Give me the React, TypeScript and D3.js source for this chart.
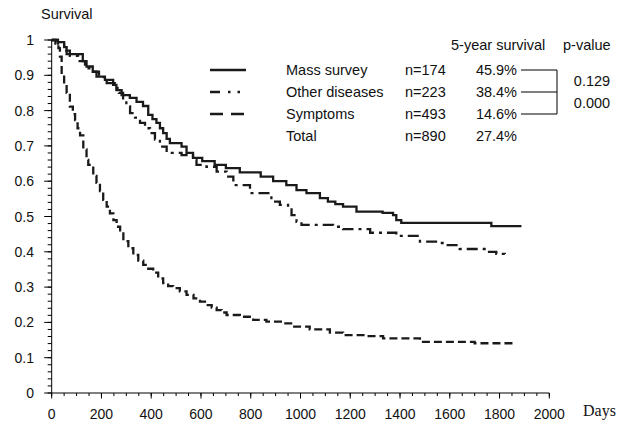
import React from "react";
import * as d3 from "d3";

// Kaplan-Meier step data: [days, survival]
const massSurvey: [number, number][] = [
  [0, 1], [25, 0.994], [50, 0.98], [60, 0.96], [125, 0.94], [140, 0.925], [165, 0.91],
  [180, 0.896], [214, 0.887], [247, 0.873], [260, 0.858], [281, 0.844], [314, 0.836],
  [341, 0.825], [367, 0.813], [388, 0.788], [405, 0.776], [421, 0.765], [435, 0.75],
  [448, 0.736], [462, 0.72], [475, 0.708], [522, 0.698], [542, 0.68], [568, 0.666],
  [605, 0.657], [655, 0.646], [700, 0.637], [756, 0.625], [840, 0.613], [890, 0.6],
  [943, 0.589], [984, 0.575], [1024, 0.566], [1078, 0.552], [1110, 0.542], [1140, 0.535],
  [1171, 0.528], [1225, 0.514], [1330, 0.51], [1372, 0.504], [1385, 0.49], [1405, 0.482],
  [1767, 0.473], [1888, 0.473],
];
const otherDiseases: [number, number][] = [
  [0, 1], [25, 0.99], [50, 0.97], [73, 0.955], [106, 0.94], [134, 0.92], [160, 0.91],
  [190, 0.895], [221, 0.878], [254, 0.864], [270, 0.85], [287, 0.83], [300, 0.812],
  [315, 0.793], [335, 0.78], [355, 0.765], [375, 0.75], [395, 0.736], [415, 0.718],
  [435, 0.698], [462, 0.68], [522, 0.674], [568, 0.66], [582, 0.646], [622, 0.641],
  [663, 0.627], [703, 0.613], [730, 0.589], [797, 0.566], [883, 0.542], [917, 0.533],
  [950, 0.524], [964, 0.504], [984, 0.485], [1004, 0.476], [1131, 0.471], [1171, 0.464],
  [1280, 0.454], [1385, 0.445], [1480, 0.429], [1560, 0.425], [1587, 0.419], [1640, 0.408],
  [1747, 0.4], [1787, 0.394], [1821, 0.388],
];
const symptoms: [number, number][] = [
  [0, 1], [15, 0.99], [27, 0.977], [33, 0.953], [40, 0.9], [50, 0.875], [60, 0.85],
  [73, 0.811], [85, 0.79], [94, 0.773], [104, 0.75], [114, 0.73], [127, 0.69], [140, 0.66],
  [147, 0.646], [167, 0.615], [180, 0.595], [194, 0.572], [207, 0.547], [221, 0.528],
  [234, 0.509], [248, 0.49], [261, 0.471], [275, 0.452], [288, 0.43], [308, 0.41],
  [328, 0.391], [348, 0.375], [368, 0.363], [388, 0.352], [408, 0.341], [428, 0.325],
  [448, 0.311], [468, 0.303], [488, 0.297], [515, 0.288], [542, 0.278], [570, 0.268],
  [596, 0.259], [622, 0.249], [643, 0.242], [663, 0.235], [683, 0.228], [703, 0.221],
  [756, 0.216], [810, 0.207], [863, 0.202], [930, 0.197], [970, 0.188], [1037, 0.18],
  [1118, 0.171], [1171, 0.164], [1265, 0.161], [1332, 0.155], [1480, 0.145], [1700, 0.141],
  [1865, 0.141],
];

const seriesNames = ["Mass survey", "Other diseases", "Symptoms", "Total"];
const seriesN = ["n=174", "n=223", "n=493", "n=890"];
const fiveYear = ["45.9%", "38.4%", "14.6%", "27.4%"];
const pValues = ["0.129", "0.000"];
const yTicks = [0, 0.1, 0.2, 0.3, 0.4, 0.5, 0.6, 0.7, 0.8, 0.9, 1];
const xTicks = [0, 200, 400, 600, 800, 1000, 1200, 1400, 1600, 1800, 2000];

const W = 630;
const H = 422;
const SANS = "'Liberation Sans', Arial, sans-serif";

export default function App() {
  const x = d3.scaleLinear().domain([0, 2000]).range([51.7, 549.3]);
  const y = d3.scaleLinear().domain([0, 1]).range([393, 40]);
  const line = d3
    .line<[number, number]>()
    .x((d) => x(d[0]))
    .y((d) => y(d[1]))
    .curve(d3.curveStepAfter);

  const yMinor = d3.range(0, 101, 2).map((v) => v / 100);
  const xMinor = d3.range(0, 2001, 50);

  const curves = [
    { data: massSurvey, dash: undefined as string | undefined, legendDash: undefined as string | undefined },
    { data: otherDiseases, dash: "11,5,3,5", legendDash: "10,8,2.5,7,2.5,8" },
    { data: symptoms, dash: "8,4", legendDash: "13,8" },
  ];

  const rowY = [70, 92, 114, 136];
  const stroke = "#1a1a1a";

  return (
    <svg
      width={W}
      height={H}
      style={{ position: "absolute", left: 0, top: 0, background: "#fff" }}
      fontFamily={SANS}
    >
      <rect width={W} height={H} fill="#fff" />
      {/* axes */}
      <line x1={x(0)} x2={x(0)} y1={y(0)} y2={y(1)} stroke="#000" strokeWidth={1} />
      <line x1={x(0)} x2={x(2000)} y1={y(0)} y2={y(0)} stroke="#000" strokeWidth={1} />
      {yMinor.map((v) => (
        <line key={"ym" + v} x1={x(0) - 4} x2={x(0)} y1={y(v)} y2={y(v)} stroke="#000" strokeWidth={1} />
      ))}
      {yTicks.map((v) => (
        <g key={"yt" + v}>
          <line x1={x(0) - 7.5} x2={x(0)} y1={y(v)} y2={y(v)} stroke="#000" strokeWidth={1} />
          <text x={34} y={y(v) + 5} textAnchor="end" fontSize={14} fill="#111">
            {String(v)}
          </text>
        </g>
      ))}
      {xMinor.map((v) => (
        <line key={"xm" + v} x1={x(v)} x2={x(v)} y1={y(0)} y2={y(0) + 3} stroke="#000" strokeWidth={1} />
      ))}
      {xTicks.map((v) => (
        <g key={"xt" + v}>
          <line x1={x(v)} x2={x(v)} y1={y(0)} y2={y(0) + 5.5} stroke="#000" strokeWidth={1} />
          <text x={x(v)} y={419} textAnchor="middle" fontSize={14} fill="#111">
            {String(v)}
          </text>
        </g>
      ))}
      <text x={41} y={18.5} fontSize={14.5} fill="#111">Survival</text>
      <text x={583} y={416} fontSize={16} fontFamily="'Liberation Serif', 'Times New Roman', serif" fill="#111">
        Days
      </text>

      {/* curves */}
      {curves.map((c, i) => (
        <path
          key={"c" + i}
          d={line(c.data) || ""}
          fill="none"
          stroke={stroke}
          strokeWidth={2.3}
          strokeDasharray={c.dash}
        />
      ))}

      {/* legend */}
      <text x={451} y={50} fontSize={14.5} fill="#111">5-year survival</text>
      <text x={563} y={50} fontSize={14.5} fill="#111">p-value</text>
      {curves.map((c, i) => (
        <line
          key={"l" + i}
          x1={210}
          x2={246}
          y1={rowY[i]}
          y2={rowY[i]}
          stroke={stroke}
          strokeWidth={2.3}
          strokeDasharray={c.legendDash}
        />
      ))}
      {seriesNames.map((s, i) => (
        <g key={"r" + i}>
          <text x={286} y={rowY[i] + 5} fontSize={14.5} fill="#111">{s}</text>
          <text x={405} y={rowY[i] + 5} fontSize={14.5} fill="#111">{seriesN[i]}</text>
          <text x={517} y={rowY[i] + 5} fontSize={14.5} fill="#111" textAnchor="end">{fiveYear[i]}</text>
        </g>
      ))}
      {[0, 1, 2].map((i) => (
        <line key={"b" + i} x1={521} x2={557} y1={rowY[i]} y2={rowY[i]} stroke="#000" strokeWidth={1} />
      ))}
      <line x1={557} x2={557} y1={rowY[0]} y2={rowY[2]} stroke="#000" strokeWidth={1} />
      {pValues.map((p, i) => (
        <text key={"p" + i} x={592} y={(rowY[i] + rowY[i + 1]) / 2 + 5} fontSize={14.5} fill="#111" textAnchor="middle">
          {p}
        </text>
      ))}
    </svg>
  );
}
